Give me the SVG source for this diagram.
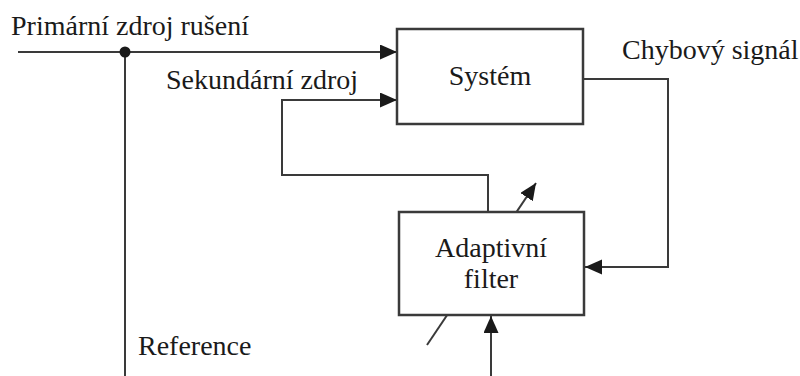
<svg xmlns="http://www.w3.org/2000/svg" width="800" height="376" viewBox="0 0 800 376">
<style>
.ln{fill:none;stroke:#3a3a3a;stroke-width:2}
.box{fill:#fff;stroke:#3a3a3a;stroke-width:2.5}
</style>
<defs>
<marker id="ah" markerUnits="userSpaceOnUse" markerWidth="18" markerHeight="16" refX="17" refY="7.5" orient="auto">
<path d="M0,0 L17,7.5 L0,15 Z" fill="#1a1a1a"/>
</marker>
</defs>
<rect width="800" height="376" fill="#fff"/>
<g id="connectors">
<line class="ln" x1="18" y1="52" x2="397" y2="52" marker-end="url(#ah)"/>
<line class="ln" x1="125" y1="52" x2="125" y2="376"/>
<circle cx="125" cy="52" r="5.5" fill="#1a1a1a"/>
<polyline class="ln" points="488,212 488,175 282,175 282,100 397,100" marker-end="url(#ah)"/>
<polyline class="ln" points="583,79 668,79 668,267 585,267" marker-end="url(#ah)"/>
<line class="ln" x1="491" y1="376" x2="491" y2="316" marker-end="url(#ah)"/>
<line class="ln" x1="427" y1="345" x2="536" y2="183" marker-end="url(#ah)"/>
</g>
<g font-family="Liberation Serif, serif" font-size="28" fill="#1a1a1a">
<g id="system">
<rect class="box" x="397" y="29" width="186" height="95"/>
<text x="490" y="85" text-anchor="middle">Systém</text>
</g>
<g id="filter">
<rect class="box" x="399" y="212" width="185" height="103"/>
<text x="491" y="257" text-anchor="middle">Adaptivní</text>
<text x="491" y="288" text-anchor="middle">filter</text>
</g>
<g id="labels">
<text x="11" y="35">Primární zdroj rušení</text>
<text x="166" y="89">Sekundární zdroj</text>
<text x="622" y="59">Chybový signál</text>
<text x="138" y="355">Reference</text>
</g>
</g>
</svg>
